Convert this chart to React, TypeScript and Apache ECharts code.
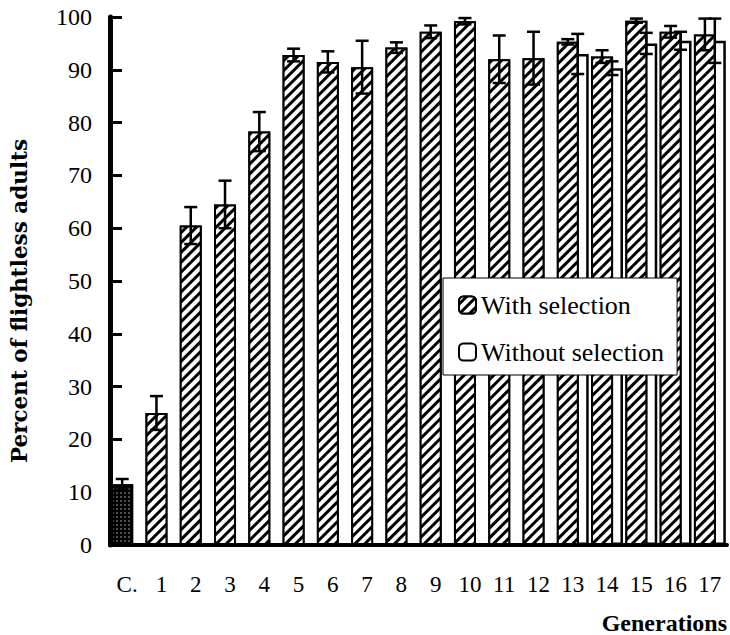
import React, { useEffect, useRef } from "react";
import * as echarts from "echarts";

const categories = ["C.", "1", "2", "3", "4", "5", "6", "7", "8", "9", "10", "11", "12", "13", "14", "15", "16", "17"];
const withSelection = [11.5, 25.0, 60.5, 64.5, 78.3, 92.8, 91.5, 90.5, 94.2, 97.2, 99.2, 92.0, 92.2, 95.3, 92.5, 99.3, 97.2, 96.7];
const withSelectionErr = [1.0, 3.2, 3.5, 4.5, 3.7, 1.2, 2.0, 5.0, 1.0, 1.2, 0.6, 4.5, 5.0, 0.5, 1.2, 0.4, 1.1, 3.0];
const withoutSelection: (number | null)[] = [null, null, null, null, null, null, null, null, null, null, null, null, null, 93.0, 90.3, 95.0, 95.5, 95.5];
const withoutSelectionErr: (number | null)[] = [null, null, null, null, null, null, null, null, null, null, null, null, null, 3.8, 1.3, 2.0, 1.7, 4.2];
const yTicks = [0, 10, 20, 30, 40, 50, 60, 70, 80, 90, 100];

const FONT = "'Liberation Serif', 'Times New Roman', serif";
const NAME_FONT = "'DejaVu Serif', serif";
const BAR_W = 22;
const OFFSET = 4.95;

const hatchDecal = {
  symbol: "rect",
  symbolSize: 1,
  dashArrayX: [1, 0],
  dashArrayY: [3.5, 3],
  rotation: -Math.PI / 4,
  color: "#ffffff",
};

const dotDecal = {
  symbol: "circle",
  symbolSize: 0.7,
  dashArrayX: [2, 2],
  dashArrayY: [2, 2],
  rotation: 0,
  color: "rgba(255,255,255,0.75)",
};

function errData(vals: (number | null)[], errs: (number | null)[]) {
  const out: any[] = [];
  vals.forEach((v, i) => {
    const e = errs[i];
    if (v != null && e != null) out.push([i, v - e, v + e]);
  });
  return out;
}

function makeRender(offset: number) {
  return (params: any, api: any) => {
    const idx = api.value(0);
    const lo = api.value(1);
    const hi = api.value(2);
    const pHi = api.coord([idx, hi]);
    const pLo = api.coord([idx, lo]);
    const x = pHi[0] + offset;
    const cap = 6.5;
    const style = { stroke: "#000", lineWidth: 2.5 };
    return {
      type: "group",
      children: [
        { type: "line", shape: { x1: x, y1: pHi[1], x2: x, y2: pLo[1] }, style },
        { type: "line", shape: { x1: x - cap, y1: pHi[1], x2: x + cap, y2: pHi[1] }, style },
        { type: "line", shape: { x1: x - cap, y1: pLo[1], x2: x + cap, y2: pLo[1] }, style },
      ],
    };
  };
}

export default function App() {
  const ref = useRef<HTMLDivElement>(null);
  useEffect(() => {
    if (!ref.current) return;
    const chart = echarts.init(ref.current, null, { renderer: "svg" });
    const option: any = {
      animation: false,
      backgroundColor: "#ffffff",
      textStyle: { fontFamily: FONT },
      grid: { left: 105, right: 2, top: 17, bottom: 90, containLabel: false },
      legend: {
        data: ["With selection", "Without selection"],
        orient: "vertical",
        left: 443,
        top: 278,
        padding: [14, 13, 10, 15],
        itemGap: 21,
        itemWidth: 17,
        itemHeight: 17,
        backgroundColor: "#ffffff",
        borderColor: "#000",
        borderWidth: 1,
        borderRadius: 0,
        textStyle: { fontFamily: FONT, fontSize: 26, color: "#000" },
        z: 10,
      },
      xAxis: {
        type: "category",
        data: categories,
        axisLine: { lineStyle: { color: "#000", width: 4 } },
        axisTick: { show: false },
        axisLabel: { margin: 28, fontFamily: FONT, fontSize: 23, color: "#000" },
        name: "Generations",
        nameLocation: "end",
        nameGap: 0,
        nameTextStyle: {
          fontFamily: FONT,
          fontSize: 24,
          fontWeight: "bold",
          color: "#000",
          align: "right",
          verticalAlign: "top",
          padding: [66, 0, 0, 0],
        },
      },
      yAxis: {
        type: "value",
        min: 0,
        max: 100,
        interval: 10,
        splitLine: { show: false },
        axisLine: { show: true, lineStyle: { color: "#000", width: 5 } },
        axisTick: { show: true, inside: true, length: 12, lineStyle: { color: "#000", width: 3 } },
        axisLabel: {
          margin: 18,
          fontFamily: FONT,
          fontSize: 24,
          color: "#000",
          formatter: (v: number) => (yTicks.includes(v) ? String(v) : ""),
        },
        name: "Percent of flightless adults",
        nameLocation: "middle",
        nameGap: 80,
        nameTextStyle: {
          fontFamily: NAME_FONT,
          fontSize: 21.5,
          fontWeight: "bold",
          color: "#000",
          padding: [0, 40, 0, 0],
        },
      },
      series: [
        {
          name: "With selection",
          type: "bar",
          barWidth: BAR_W,
          barGap: "-55%",
          z: 3,
          itemStyle: { color: "#000", borderColor: "#000", borderWidth: 2, decal: hatchDecal },
          data: withSelection.map((v, i) =>
            i === 0 ? { value: v, itemStyle: { decal: dotDecal } } : v
          ),
        },
        {
          name: "Without selection",
          type: "bar",
          barWidth: BAR_W,
          z: 2,
          itemStyle: { color: "#ffffff", borderColor: "#000", borderWidth: 2.5 },
          data: withoutSelection.map((v) => (v == null ? "-" : v)),
        },
        {
          name: "errWith",
          type: "custom",
          z: 5,
          renderItem: makeRender(-OFFSET),
          encode: { x: 0, y: [1, 2] },
          data: errData(withSelection, withSelectionErr),
        },
        {
          name: "errWithout",
          type: "custom",
          z: 5,
          renderItem: makeRender(OFFSET),
          encode: { x: 0, y: [1, 2] },
          data: errData(withoutSelection, withoutSelectionErr),
        },
      ],
    };
    chart.setOption(option);
    return () => chart.dispose();
  }, []);
  return <div ref={ref} style={{ width: 730, height: 635, position: "absolute", left: 0, top: 0 }} />;
}
